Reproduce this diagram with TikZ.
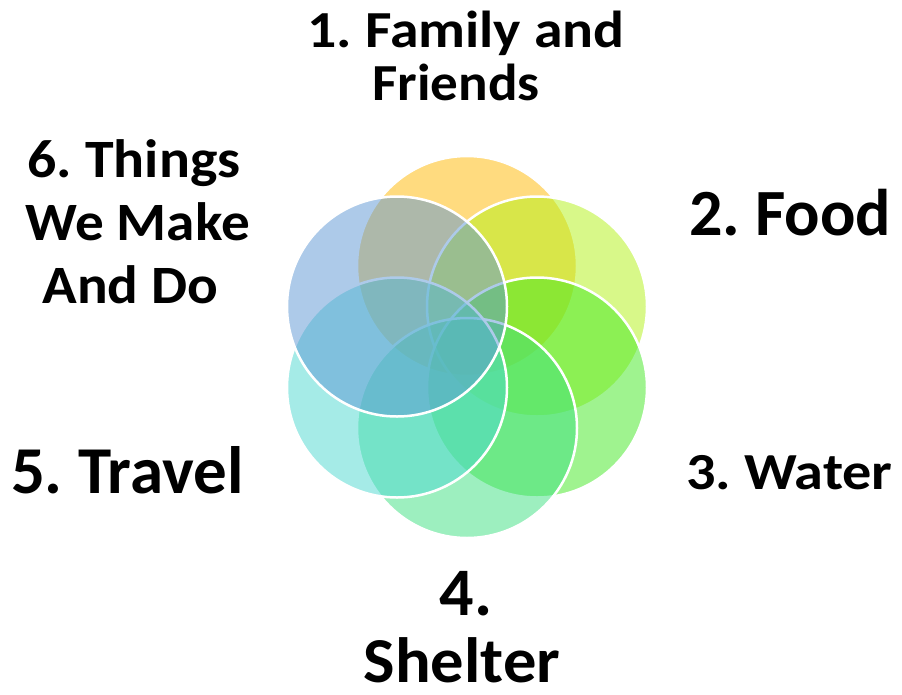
\documentclass[tikz,border=0pt]{standalone}
\usepackage{fontspec}
\usepackage{graphicx}
\setmainfont{Carlito}
\frenchspacing
\definecolor{cOne}{RGB}{255,185,0}
\definecolor{cTwo}{RGB}{178,242,20}
\definecolor{cThree}{RGB}{65,233,33}
\definecolor{cFour}{RGB}{61,225,129}
\definecolor{cFive}{RGB}{77,217,209}
\definecolor{cSix}{RGB}{93,151,213}
\begin{document}
\begin{tikzpicture}[x=1pt,y=-1pt,
  venn/.style={circle,minimum size=220pt,inner sep=0pt,outer sep=0pt,
    fill opacity=0.5,draw=white,draw opacity=1,line width=2.5pt},
  lab/.style={inner sep=0pt,outer sep=0pt,text=black,text depth=0pt,font=\bfseries}]
\useasboundingbox (0,0) rectangle (902,694);
\fill[white] (0,0) rectangle (902,694);
% circles
\node[venn,fill=cOne]   (k1) at (467,266)   {};
\node[venn,fill=cTwo]   (k2) at (537,306.5) {};
\node[venn,fill=cThree] (k3) at (537,387.5) {};
\node[venn,fill=cFour]  (k4) at (467,428)   {};
\node[venn,fill=cFive]  (k5) at (397,387.5) {};
\node[venn,fill=cSix]   (k6) at (397,306.5) {};
% labels
\node[lab,anchor=base,font=\bfseries\fontsize{52}{52}\selectfont] (t1a) at (466,47) {\scalebox{1.11}[1]{1. Family and}};
\node[lab,anchor=base,font=\bfseries\fontsize{52}{52}\selectfont] (t1b) at (456,100) {\scalebox{1.06}[1]{Friends}};
\node[lab,anchor=base west,font=\bfseries\fontsize{66}{66}\selectfont] (t2) at (689,235) {2. Food};
\node[lab,anchor=base west,font=\bfseries\fontsize{52}{52}\selectfont] (t3) at (686,489) {\scalebox{1.12}[1]{3. Water}};
\node[lab,anchor=base,font=\bfseries\fontsize{68}{68}\selectfont] (t4a) at (466,615) {4.};
\node[lab,anchor=base,font=\bfseries\fontsize{64}{64}\selectfont] (t4b) at (462,682) {\scalebox{1.04}[1]{Shelter}};
\node[lab,anchor=base west,font=\bfseries\fontsize{67}{67}\selectfont] (t5) at (11,493) {5. Travel};
\node[lab,anchor=base,font=\bfseries\fontsize{54}{54}\selectfont] (t6a) at (134,177) {\scalebox{1.07}[1]{6. Things}};
\node[lab,anchor=base,font=\bfseries\fontsize{54}{54}\selectfont] (t6b) at (137.5,240) {\scalebox{1.06}[1]{We Make}};
\node[lab,anchor=base,font=\bfseries\fontsize{54}{54}\selectfont] (t6c) at (130.5,303) {\scalebox{1.06}[1]{And Do}};
\end{tikzpicture}
\end{document}
